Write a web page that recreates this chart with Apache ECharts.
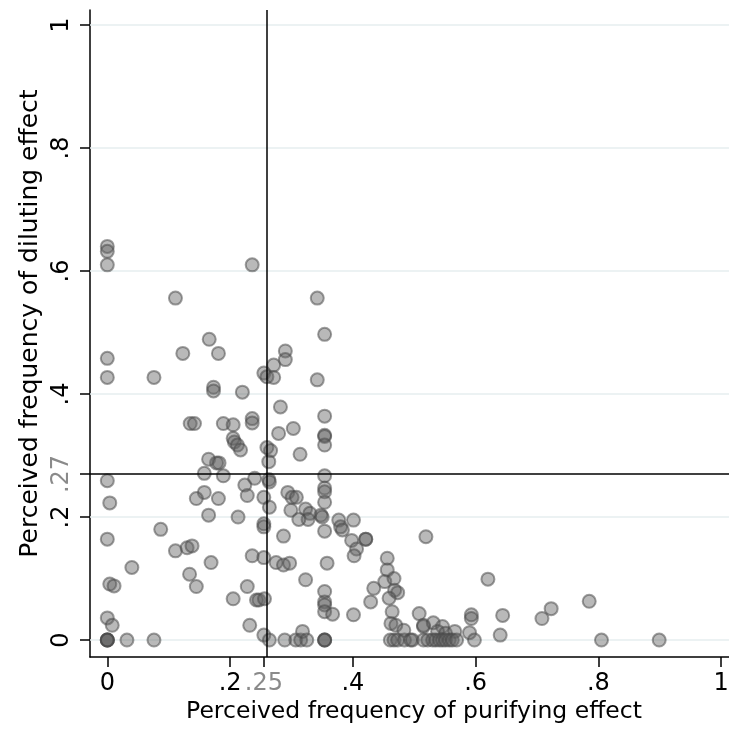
<!DOCTYPE html>
<html><head><meta charset="utf-8">
<script src="https://cdn.jsdelivr.net/npm/echarts@6/dist/echarts.min.js"></script>
<style>html,body{margin:0;padding:0;background:#fff}#c{width:729px;height:733px}</style>
</head><body><div id="c"></div>
<script>
// Perceived frequency of purifying effect (x) and diluting effect (y), one entry per respondent
const purifying = [
  0,0,0,0,0,0,0.004,0,0.004,0.011,0,0.008,0,0,0,0,
  0.032,0.076,0.040,0.087,0.076,0.111,0.123,0.111,0.130,0.138,0.134,0.145,0.135,0.142,0.166,0.181,
  0.173,0.173,0.158,0.165,0.178,0.182,0.189,0.158,0.145,0.181,0.165,0.169,0.189,0.205,0.205,0.207,
  0.212,0.217,0.220,0.213,0.224,0.228,0.228,0.205,0.232,0.236,0.236,0.236,0.236,0.240,
  0.255,0.260,0.271,0.271,0.290,0.290,0.282,0.279,0.260,0.266,0.263,0.263,0.264,0.255,0.264,0.255,
  0.255,0.287,0.255,0.275,0.287,0.297,0.243,0.247,0.256,0.255,0.264,0.289,
  0.342,0.354,0.342,0.354,0.303,0.354,0.354,0.354,0.314,0.354,0.354,0.354,0.354,0.294,0.301,0.308,
  0.299,0.323,0.330,0.327,0.312,0.348,0.350,0.377,0.380,0.383,0.401,0.354,0.398,0.406,0.402,0.421,
  0.421,0.358,0.323,0.354,0.354,0.354,0.354,0.367,0.401,0.307,0.315,0.318,0.325,0.354,0.354,0.354,
  0.456,0.456,0.452,0.467,0.468,0.473,0.434,0.429,0.459,0.464,0.462,0.470,0.483,0.461,0.467,0.473,
  0.484,0.494,0.497,0.519,0.508,0.515,0.515,0.531,0.546,0.538,0.551,0.566,0.515,0.522,0.530,0.535,
  0.541,0.546,0.551,0.557,0.562,0.569,0.593,0.593,0.590,0.598,0.620,0.644,0.640,0.708,0.723,0.785,
  0.805,0.899
];
const diluting = [
  0.640,0.632,0.610,0.458,0.427,0.259,0.223,0.164,0.091,0.088,0.036,0.024,0,0,0,0,
  0,0,0.118,0.180,0.427,0.556,0.466,0.145,0.150,0.153,0.107,0.087,0.352,0.352,0.489,0.466,
  0.411,0.405,0.271,0.294,0.288,0.288,0.267,0.240,0.230,0.230,0.203,0.126,0.352,0.350,0.328,0.322,
  0.317,0.309,0.403,0.200,0.252,0.235,0.087,0.067,0.024,0.610,0.360,0.353,0.137,0.263,
  0.434,0.428,0.427,0.447,0.470,0.456,0.379,0.336,0.313,0.308,0.290,0.261,0.257,0.232,0.216,0.189,
  0.184,0.169,0.134,0.126,0.122,0.125,0.065,0.065,0.067,0.008,0,0,
  0.556,0.497,0.423,0.364,0.344,0.333,0.331,0.317,0.302,0.267,0.247,0.241,0.224,0.240,0.232,0.232,
  0.211,0.213,0.206,0.196,0.196,0.203,0.200,0.195,0.184,0.179,0.195,0.177,0.162,0.148,0.137,0.164,
  0.164,0.125,0.098,0.079,0.062,0.057,0.046,0.042,0.041,0,0,0.014,0,0,0,0,
  0.133,0.114,0.095,0.100,0.081,0.077,0.084,0.062,0.068,0.046,0.027,0.024,0.016,0,0,0,
  0,0,0,0.168,0.043,0.022,0.024,0.028,0.022,0.014,0.011,0.014,0,0,0,0,
  0,0,0,0,0,0,0.041,0.035,0.012,0,0.099,0.040,0.008,0.035,0.051,0.063,
  0,0
];
const meanPurifying = 0.255;
const meanDiluting = 0.27;
const xTickValues = [0, 0.2, meanPurifying, 0.4, 0.6, 0.8, 1];
const xTickLabels = ['0', '.2', '.25', '.4', '.6', '.8', '1'];
const yTickValues = [0, 0.2, meanDiluting, 0.4, 0.6, 0.8, 1];
const yTickLabels = ['0', '.2', '.27', '.4', '.6', '.8', '1'];
const gridValues = [0, 0.2, 0.4, 0.6, 0.8, 1];
const xTitle = 'Perceived frequency of purifying effect';
const yTitle = 'Perceived frequency of diluting effect';

const FONT = 'DejaVu Sans';
function lookup(vals, labels, v) {
  for (let i = 0; i < vals.length; i++) if (Math.abs(vals[i] - v) < 1e-6) return labels[i];
  return '';
}
function isMean(v, m) { return Math.abs(v - m) < 1e-6; }

const points = purifying.map((x, i) => [x, diluting[i]]);
const chart = echarts.init(document.getElementById('c'), null, {renderer: 'canvas'});
chart.setOption({
  animation: false,
  backgroundColor: '#ffffff',
  grid: {left: 90, top: 10, right: 0, bottom: 76, containLabel: false, outerBoundsMode: 'none'},
  xAxis: {
    type: 'value', min: -0.0282, max: 1.0127,
    axisLine: {show: true, onZero: false, lineStyle: {color: '#000', width: 1.5}},
    axisTick: {show: true, customValues: xTickValues, length: 10, lineStyle: {color: '#000', width: 1.5}},
    axisLabel: {
      customValues: xTickValues, margin: 15, fontSize: 24, fontFamily: FONT,
      formatter: v => lookup(xTickValues, xTickLabels, v),
      color: v => isMean(v, meanPurifying) ? '#8a8a8a' : '#000'
    },
    splitLine: {show: false},
    name: xTitle, nameLocation: 'middle', nameGap: 43, nameMoveOverlap: false,
    nameTextStyle: {fontSize: 23.5, color: '#000', fontFamily: FONT, padding: [0, 0, 0, 9]}
  },
  yAxis: {
    type: 'value', min: -0.0276, max: 1.0244,
    axisLine: {show: true, onZero: false, lineStyle: {color: '#000', width: 1.5}},
    axisTick: {show: true, customValues: yTickValues, length: 10, lineStyle: {color: '#000', width: 1.5}},
    axisLabel: {
      customValues: yTickValues, margin: 16, fontSize: 24, fontFamily: FONT, rotate: 90,
      formatter: v => lookup(yTickValues, yTickLabels, v),
      color: v => isMean(v, meanDiluting) ? '#8a8a8a' : '#000'
    },
    splitLine: {show: false},
    name: yTitle, nameLocation: 'middle', nameGap: 47, nameRotate: 90, nameMoveOverlap: false,
    nameTextStyle: {fontSize: 25, color: '#000', fontFamily: FONT, padding: [0, 0, 0, 20]}
  },
  series: [
    {
      type: 'scatter', data: [], silent: true,
      markLine: {
        z: 1, silent: true, symbol: ['none', 'none'], label: {show: false},
        lineStyle: {color: '#e6eeef', width: 1.5, type: 'solid'},
        data: gridValues.map(v => ({yAxis: v}))
      }
    },
    {
      type: 'scatter', z: 2, data: points, symbol: 'circle', symbolSize: 13,
      itemStyle: {color: 'rgba(95,95,95,0.55)', borderColor: 'rgba(70,70,70,0.65)', borderWidth: 2},
      markLine: {
        z: 5, silent: true, symbol: ['none', 'none'], label: {show: false},
        lineStyle: {color: '#000', width: 1.5, type: 'solid'},
        data: [{xAxis: meanPurifying}, {yAxis: meanDiluting}]
      }
    }
  ]
});
</script>
</body></html>
